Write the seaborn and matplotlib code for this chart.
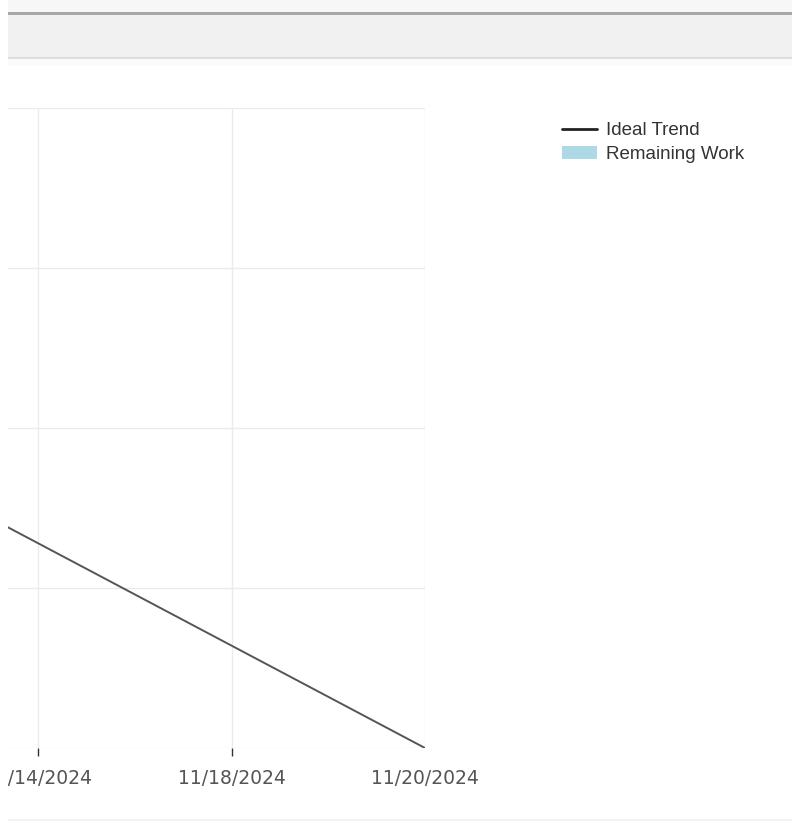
import matplotlib
matplotlib.use("Agg")
import matplotlib.pyplot as plt
from matplotlib.patches import Rectangle, Patch
from matplotlib.lines import Line2D
import seaborn as sns
import pandas as pd

# ---- data ----
dates = ["11/12/2024", "11/14/2024", "11/18/2024", "11/20/2024"]
ideal_trend = [9.6, 6.4, 3.2, 0.0]
remaining_work = [0.0, 0.0, 0.0, 0.0]
y_ticks = [0, 5, 10, 15, 20]
legend_labels = ["Ideal Trend", "Remaining Work"]

sns.set_theme(style="white")
plt.rcParams["font.family"] = ["DejaVu Sans"]

W, H = 792, 823
fig = plt.figure(figsize=(W / 100, H / 100), dpi=100)

# axes placement (left part of chart is cropped out of the screenshot)
left_px, right_px, top_px, bottom_px = -155.5, 425, 108, 748
ax = fig.add_axes([left_px / W, 1 - bottom_px / H,
                   (right_px - left_px) / W, (bottom_px - top_px) / H])

df = pd.DataFrame({"date": dates, "ideal": ideal_trend, "remaining": remaining_work})

ax.fill_between(df["date"], df["remaining"], color="#add8e6", linewidth=0)
sns.lineplot(data=df, x="date", y="ideal", ax=ax, color="#555555",
             linewidth=1.4, legend=False)

ax.set_xlim(0, len(dates) - 1)
ax.set_ylim(y_ticks[0], y_ticks[-1])
ax.set_yticks(y_ticks)
ax.set_xlabel("")
ax.set_ylabel("")

ax.grid(True, color="#ebebeb", linewidth=1)
for s in ax.spines.values():
    s.set_visible(False)
ax.tick_params(axis="x", length=6, width=1, color="#333333", direction="out",
               pad=9, labelsize=13.5, labelcolor="#555555", bottom=True)
ax.tick_params(axis="y", length=0, labelleft=False)
ax.xaxis.get_major_ticks()[-1].tick1line.set_visible(False)

# legend
handles = [Line2D([0], [0], color="#222222", linewidth=2),
           Patch(facecolor="#add8e6", edgecolor="none")]
fig.legend(handles, legend_labels, loc="upper left",
           bbox_to_anchor=(562 / W, 1 - 122 / H), frameon=False,
           borderpad=0, borderaxespad=0, handlelength=1.85, handletextpad=0.5,
           labelspacing=0.38, prop={"family": "Liberation Sans", "size": 13.5},
           labelcolor="#333333")

# window chrome at top of screenshot
def rect_px(x0, y0, x1, y1, color, z=10):
    fig.add_artist(Rectangle((x0 / W, 1 - y1 / H), (x1 - x0) / W, (y1 - y0) / H,
                             transform=fig.transFigure, facecolor=color,
                             edgecolor="none", zorder=z))

rect_px(6, 0, W, 12, "#f7f7f7")
rect_px(6, 12, W, 15, "#a8a8a8")
rect_px(6, 15, W, 57, "#f1f1f1")
rect_px(6, 57, W, 59, "#dddddd")
rect_px(6, 59, W, 66, "#fafafa")
rect_px(6, 819, W, 821, "#f3f3f3")
rect_px(0, 0, 8, H, "#ffffff", z=20)

fig.savefig("out.png", dpi=100)
